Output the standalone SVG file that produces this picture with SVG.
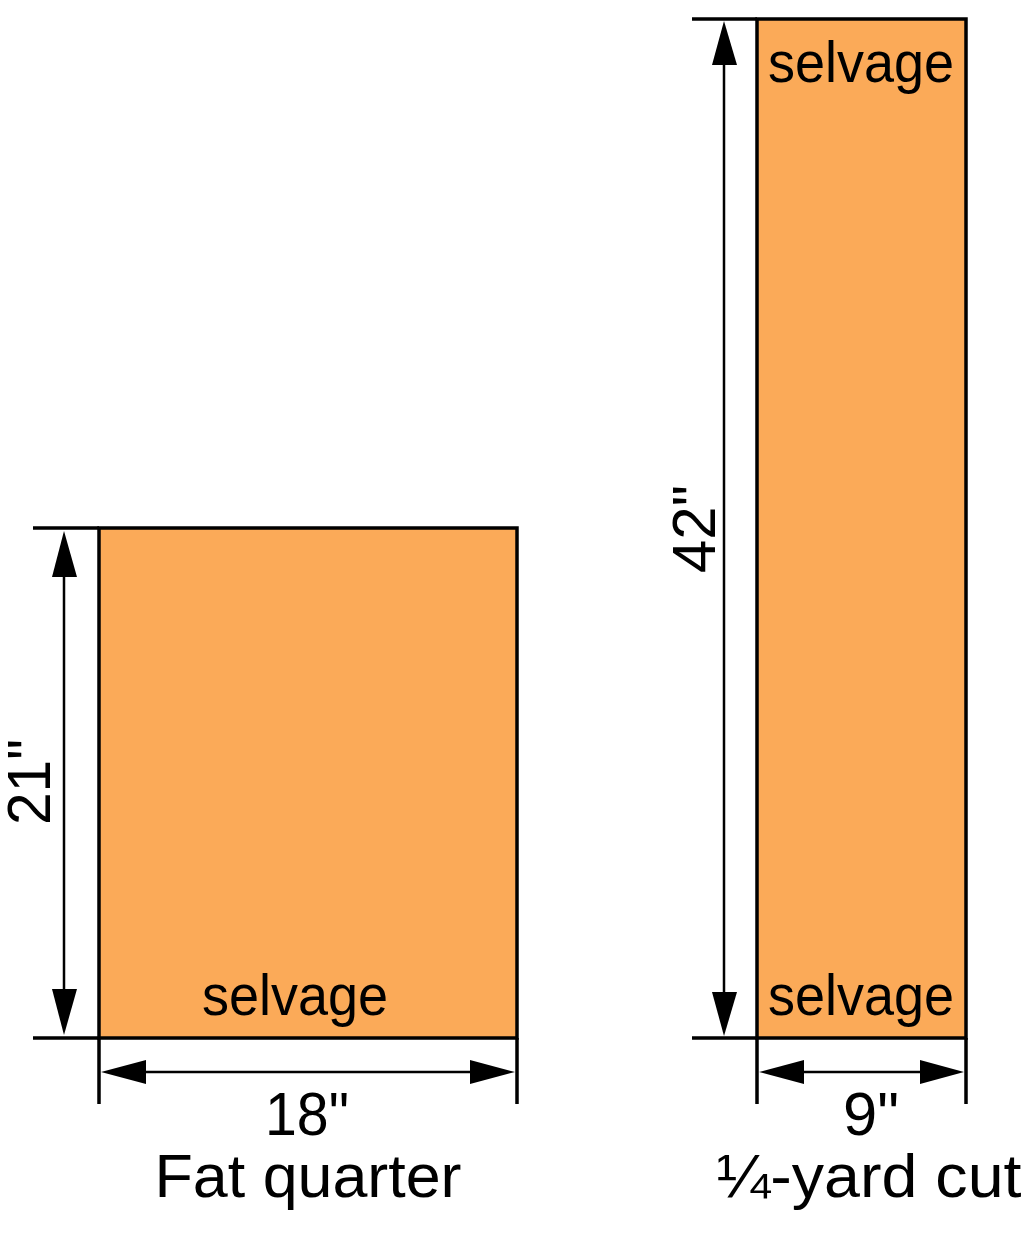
<svg xmlns="http://www.w3.org/2000/svg" width="1025" height="1240" viewBox="0 0 1025 1240">
<style>
.fab{fill:#FBAA58;stroke:#000;stroke-width:3.5}
.ext{stroke:#000;stroke-width:3.5;fill:none}
.dim{stroke:#000;stroke-width:2.5;fill:none}
.ah{fill:#000}
text{font-family:"Liberation Sans",Arial,sans-serif;fill:#000}
.lbl{font-size:62px;text-anchor:middle}
.sel{font-size:58px;text-anchor:middle}
</style>
<rect width="1025" height="1240" fill="#fff"/>
<g id="fat-quarter">
<rect class="fab" x="99" y="528" width="418" height="510"/>
<text class="sel" x="295" y="1015" textLength="186" lengthAdjust="spacingAndGlyphs">selvage</text>
</g>
<g id="quarter-yard">
<rect class="fab" x="757" y="19" width="209" height="1019"/>
<text class="sel" x="861" y="82" textLength="186" lengthAdjust="spacingAndGlyphs">selvage</text>
<text class="sel" x="861" y="1015" textLength="186" lengthAdjust="spacingAndGlyphs">selvage</text>
</g>
<g id="connectors">
<path class="ext" d="M33 528H99M33 1038H99M99 1038V1104M517 1038V1104"/>
<path class="dim" d="M64 560V1010M130 1072H488"/>
<polygon class="ah" points="64,531 52,577 77,577"/>
<polygon class="ah" points="64,1035 52,989 77,989"/>
<polygon class="ah" points="101,1072 146,1060 146,1084"/>
<polygon class="ah" points="515,1072 470,1060 470,1084"/>
<path class="ext" d="M692 19H757M692 1038H757M757 1038V1104M966 1038V1104"/>
<path class="dim" d="M724 50V1010M790 1072H935"/>
<polygon class="ah" points="724,21 712,65 737,65"/>
<polygon class="ah" points="724,1036 712,992 737,992"/>
<polygon class="ah" points="759,1072 804,1060 804,1084"/>
<polygon class="ah" points="964,1072 920,1060 920,1084"/>
</g>
<g id="labels">
<text class="lbl" x="782" y="50" transform="rotate(-90 50 782) translate(-732 732)" textLength="86" lengthAdjust="spacingAndGlyphs">21"</text>
<text class="lbl" x="307" y="1135" textLength="84" lengthAdjust="spacingAndGlyphs">18"</text>
<text class="lbl" x="308" y="1197" textLength="307" lengthAdjust="spacingAndGlyphs">Fat quarter</text>
<text class="lbl" x="529" y="715" transform="rotate(-90 715 529) translate(186 -186)" textLength="88" lengthAdjust="spacingAndGlyphs">42"</text>
<text class="lbl" x="871" y="1135" textLength="56" lengthAdjust="spacingAndGlyphs">9"</text>
<text class="lbl" x="869" y="1197" textLength="305" lengthAdjust="spacingAndGlyphs">¼-yard cut</text>
</g>
</svg>
